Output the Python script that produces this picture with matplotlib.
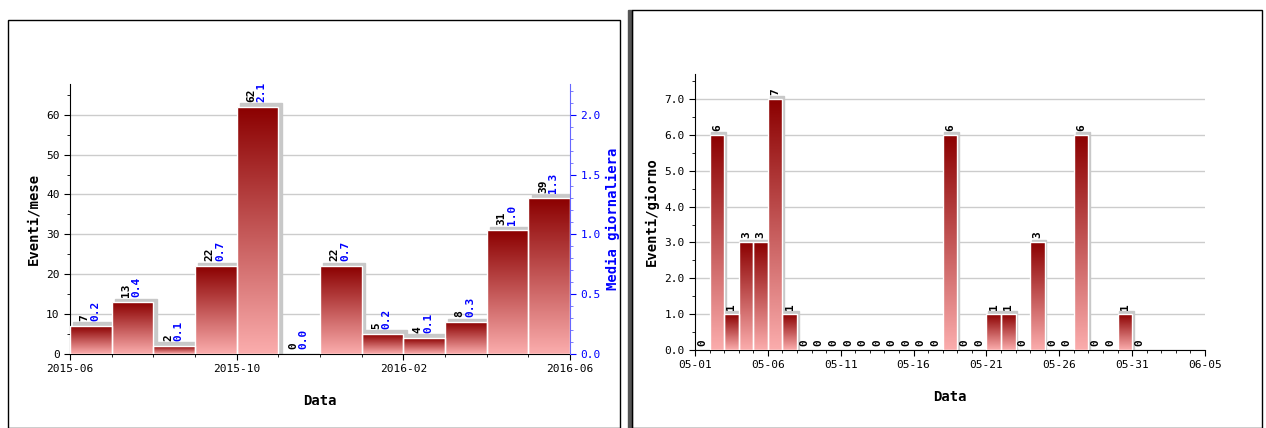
import numpy as np
import matplotlib
matplotlib.use("Agg")
import matplotlib.pyplot as plt
from matplotlib.patches import Rectangle
from matplotlib.colors import LinearSegmentedColormap

months = ["2015-06","2015-07","2015-08","2015-09","2015-10","2015-11","2015-12",
          "2016-01","2016-02","2016-03","2016-04","2016-05"]
month_counts = [7, 13, 2, 22, 62, 0, 22, 5, 4, 8, 31, 39]
month_avg = [0.2, 0.4, 0.1, 0.7, 2.1, 0.0, 0.7, 0.2, 0.1, 0.3, 1.0, 1.3]
month_ticks = ["2015-06", "2015-10", "2016-02", "2016-06"]

days = ["05-%02d" % d for d in range(1, 32)]
day_counts = [0, 6, 1, 3, 3, 7, 1, 0, 0, 0, 0, 0, 0, 0, 0, 0, 0, 6, 0, 0, 1, 1, 0, 3, 0, 0, 6, 0, 0, 1, 0]
day_ticks = ["05-01", "05-06", "05-11", "05-16", "05-21", "05-26", "05-31", "06-05"]

W, H = 1266, 428
fig = plt.figure(figsize=(W/100, H/100), dpi=100)
fig.patch.set_facecolor("white")
plt.rcParams['font.family'] = ['DejaVu Sans Mono', 'DejaVu Sans']

# panel frames
fig.add_artist(Rectangle((628/W, 0), 4/W, 418/H, transform=fig.transFigure, color="#555555"))
fig.add_artist(Rectangle((8/W, 0), 612/W, 408/H, transform=fig.transFigure, fill=False, ec="black", lw=1))
fig.add_artist(Rectangle((632/W, 0), 630/W, 418/H, transform=fig.transFigure, fill=False, ec="black", lw=1))

cmap = LinearSegmentedColormap.from_list("r", ["#fbadad", "#8b0000"])
grad = np.linspace(0, 1, 256).reshape(-1, 1)

def bars(ax, vals, sx, sy):
    for i, v in enumerate(vals):
        if v <= 0:
            continue
        ax.add_patch(Rectangle((i + sx, 0), 1, v + sy, color="#c8c8c8", zorder=2))
        im = ax.imshow(grad, extent=(i, i + 1, 0, v), origin="lower", cmap=cmap,
                       aspect="auto", zorder=3)
        r = Rectangle((i, 0), 1, v, fill=False, ec="white", lw=1, zorder=4)
        ax.add_patch(r)
        im.set_clip_path(r)

def style(ax):
    for s in ["top", "right"]:
        ax.spines[s].set_visible(False)
    ax.grid(axis="y", color="#cccccc", lw=1, zorder=0)
    ax.set_axisbelow(True)
    ax.tick_params(labelsize=8, length=4)
    ax.tick_params(which="minor", length=2)

# left chart
ax = fig.add_axes([70/W, 1 - 354/H, 500/W, 270/H])
ax.set_xlim(0, 12); ax.set_ylim(0, 67.7)
bars(ax, month_counts, 0.08, 0.9)
for i, (c, a) in enumerate(zip(month_counts, month_avg)):
    ax.text(i + 0.35, c + 1.3, str(c), rotation=90, ha="center", va="bottom", fontsize=8, weight="bold", color="black", zorder=5)
    ax.text(i + 0.6, c + 1.3, "%.1f" % a, rotation=90, ha="center", va="bottom", fontsize=8, weight="bold", color="blue", zorder=5)
style(ax)
ax.set_xticks([0, 4, 8, 12]); ax.set_xticklabels(month_ticks)
ax.set_xticks(range(13), minor=True)
ax.set_yticks(range(0, 61, 10)); ax.set_yticks(range(0, 68, 5), minor=True)
ax.set_xlabel("Data", fontsize=10, weight="bold", labelpad=14)
ax.set_ylabel("Eventi/mese", fontsize=10, weight="bold")
ax2 = ax.twinx()
ax2.set_ylim(0, 67.7/30)
ax2.set_yticks([0, 0.5, 1.0, 1.5, 2.0]); ax2.set_yticks(np.arange(0, 2.26, 0.1), minor=True)
ax2.spines["right"].set_color("#6666ff")
for s in ["top", "left", "bottom"]:
    ax2.spines[s].set_visible(False)
ax2.tick_params(axis="y", colors="blue", labelsize=8, length=4)
ax2.tick_params(which="minor", colors="#6666ff", length=2)
ax2.set_ylabel("Media giornaliera", fontsize=10, weight="bold", color="blue")

# right chart
bx = fig.add_axes([695/W, 1 - 350/H, 510/W, 276/H])
bx.set_xlim(0, 35); bx.set_ylim(0, 7.7)
bars(bx, day_counts, 0.12, 0.08)
for i, c in enumerate(day_counts):
    bx.text(i + 0.5, c + 0.12, str(c), rotation=90, ha="center", va="bottom", fontsize=8, weight="bold", zorder=5)
style(bx)
bx.set_xticks(range(0, 36, 5)); bx.set_xticklabels(day_ticks)
bx.set_xticks(range(36), minor=True)
bx.set_yticks(range(0, 8)); bx.set_yticklabels(["%.1f" % v for v in range(8)])
bx.set_yticks(np.arange(0, 7.7, 0.5), minor=True)
bx.set_xlabel("Data", fontsize=10, weight="bold", labelpad=14)
bx.set_ylabel("Eventi/giorno", fontsize=10, weight="bold")

fig.savefig("out.png", dpi=100)
